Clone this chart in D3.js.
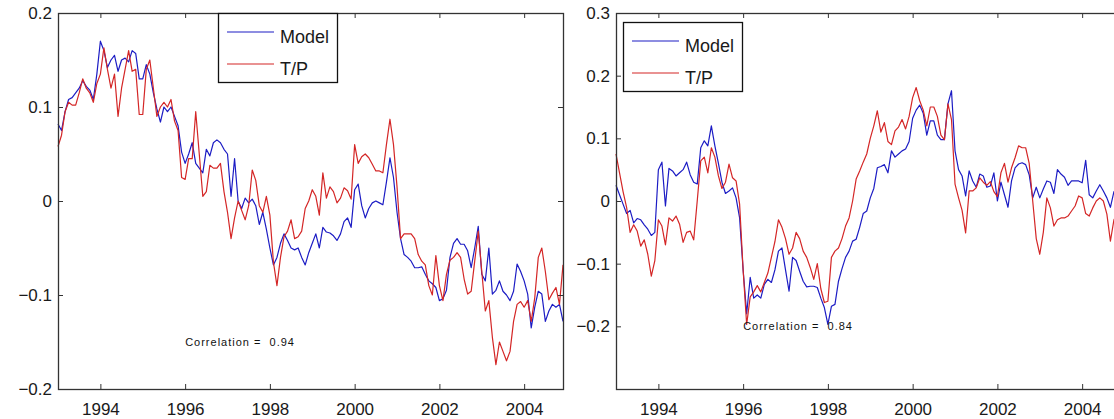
<!DOCTYPE html>
<html>
<head>
<meta charset="utf-8">
<script src="https://cdn.jsdelivr.net/npm/d3@7"></script>
<style>
  html, body { margin: 0; padding: 0; background: #fff; }
  svg { display: block; font-family: "Liberation Sans", Arial, sans-serif; }
</style>
</head>
<body>
<div id="chart"></div>
<script>
// Monthly series, Jan 1993 .. Dec 2004
const startYear = 1993;

const leftModel = [
  0.082, 0.075, 0.095, 0.108, 0.110, 0.115, 0.120, 0.128, 0.122, 0.118, 0.108, 0.135,
  0.170, 0.160, 0.142, 0.150, 0.155, 0.138, 0.150, 0.152, 0.148, 0.160, 0.157, 0.130,
  0.130, 0.145, 0.135, 0.115, 0.098, 0.084, 0.100, 0.095, 0.100, 0.090, 0.080, 0.052,
  0.040, 0.050, 0.062, 0.040, 0.035, 0.030, 0.055, 0.048, 0.062, 0.065, 0.062, 0.055,
  0.050, 0.005, 0.045, 0.000, -0.008, 0.003, -0.002, 0.002, -0.005, -0.025, -0.012, -0.030,
  -0.050, -0.068, -0.060, -0.045, -0.035, -0.042, -0.050, -0.052, -0.050, -0.060, -0.068, -0.055,
  -0.045, -0.035, -0.050, -0.028, -0.033, -0.034, -0.037, -0.042, -0.035, -0.022, -0.018, -0.028,
  0.012, 0.018, -0.005, -0.018, -0.008, -0.002, 0.000, -0.002, -0.004, 0.020, 0.046, 0.025,
  -0.012, -0.040, -0.057, -0.060, -0.064, -0.071, -0.071, -0.070, -0.078, -0.085, -0.088, -0.092,
  -0.106, -0.104, -0.095, -0.060, -0.045, -0.040, -0.046, -0.046, -0.053, -0.071, -0.050, -0.027,
  -0.078, -0.085, -0.050, -0.099, -0.095, -0.085, -0.096, -0.100, -0.106, -0.096, -0.067, -0.075,
  -0.085, -0.099, -0.135, -0.113, -0.096, -0.099, -0.128, -0.117, -0.110, -0.113, -0.110, -0.128
];

const leftTP = [
  0.058, 0.070, 0.095, 0.105, 0.102, 0.102, 0.115, 0.130, 0.120, 0.115, 0.105, 0.125,
  0.135, 0.163, 0.140, 0.120, 0.135, 0.090, 0.120, 0.140, 0.160, 0.138, 0.140, 0.092,
  0.092, 0.140, 0.150, 0.120, 0.090, 0.100, 0.105, 0.100, 0.108, 0.085, 0.075, 0.025,
  0.023, 0.045, 0.045, 0.095, 0.050, 0.005, 0.010, 0.038, 0.035, 0.035, 0.040, 0.010,
  -0.012, -0.040, -0.018, 0.000, -0.010, -0.020, -0.005, 0.033, 0.022, -0.005, -0.012, 0.005,
  -0.015, -0.065, -0.090, -0.060, -0.038, -0.032, -0.020, -0.040, -0.038, -0.032, -0.008, 0.000,
  0.012, 0.005, -0.015, 0.030, 0.003, 0.015, 0.010, -0.002, 0.003, 0.014, 0.011, 0.002,
  0.060, 0.040, 0.047, 0.050, 0.046, 0.039, 0.032, 0.032, 0.030, 0.060, 0.087, 0.060,
  0.015, -0.040, -0.035, -0.035, -0.035, -0.040, -0.057, -0.064, -0.068, -0.090, -0.100, -0.058,
  -0.090, -0.106, -0.078, -0.063, -0.060, -0.055, -0.060, -0.083, -0.099, -0.096, -0.064, -0.032,
  -0.075, -0.117, -0.106, -0.145, -0.174, -0.150, -0.160, -0.170, -0.160, -0.128, -0.110, -0.107,
  -0.113, -0.106, -0.128, -0.103, -0.060, -0.050, -0.075, -0.105, -0.098, -0.092, -0.110, -0.068
];

const rightModel = [
  0.025, 0.010, -0.005, -0.020, -0.015, -0.035, -0.028, -0.030, -0.038, -0.045, -0.055, -0.050,
  0.050, 0.062, -0.008, 0.052, 0.048, 0.040, 0.045, 0.050, 0.062, 0.042, 0.030, 0.027,
  0.085, 0.096, 0.088, 0.120, 0.088, 0.060, 0.030, 0.012, 0.016, 0.021, 0.005, -0.027,
  -0.110, -0.180, -0.122, -0.155, -0.150, -0.155, -0.133, -0.125, -0.130, -0.110, -0.080, -0.075,
  -0.110, -0.144, -0.090, -0.095, -0.112, -0.128, -0.137, -0.136, -0.136, -0.138, -0.155, -0.170,
  -0.197, -0.168, -0.165, -0.128, -0.108, -0.090, -0.080, -0.064, -0.061, -0.042, -0.020, -0.016,
  0.005, 0.020, 0.053, 0.055, 0.058, 0.045, 0.080, 0.070, 0.075, 0.080, 0.083, 0.095,
  0.132, 0.145, 0.153, 0.140, 0.105, 0.128, 0.128, 0.105, 0.098, 0.098, 0.155, 0.176,
  0.080, 0.050, 0.040, 0.008, 0.048, 0.032, 0.022, 0.043, 0.040, 0.022, 0.024, 0.045,
  0.000, 0.030, 0.010, -0.010, 0.032, 0.053, 0.059, 0.061, 0.058, 0.042, 0.005, 0.022,
  0.005, 0.019, 0.032, 0.030, 0.012, 0.050, 0.043, 0.038, 0.025, 0.032, 0.032, 0.032,
  0.029, 0.065, 0.010, 0.005, 0.016, 0.026, 0.016, 0.005, -0.010, 0.015, 0.010, 0.000
];

const rightTP = [
  0.075, 0.045, 0.015, -0.010, -0.050, -0.038, -0.048, -0.072, -0.062, -0.085, -0.120, -0.095,
  -0.030, -0.040, -0.070, -0.027, -0.032, -0.024, -0.037, -0.066, -0.050, -0.048, -0.062, 0.000,
  0.064, 0.070, 0.045, 0.085, 0.070, 0.040, 0.020, 0.030, 0.059, 0.037, 0.032, -0.005,
  -0.110, -0.197, -0.153, -0.145, -0.135, -0.145, -0.130, -0.115, -0.090, -0.065, -0.030, -0.042,
  -0.060, -0.085, -0.075, -0.050, -0.060, -0.080, -0.090, -0.106, -0.125, -0.100, -0.140, -0.162,
  -0.160, -0.090, -0.080, -0.075, -0.060, -0.040, -0.027, 0.000, 0.035, 0.048, 0.062, 0.075,
  0.100, 0.120, 0.144, 0.110, 0.125, 0.095, 0.090, 0.112, 0.118, 0.130, 0.115, 0.135,
  0.165, 0.181, 0.160, 0.145, 0.120, 0.150, 0.150, 0.135, 0.105, 0.098, 0.155, 0.130,
  0.027, 0.005, -0.015, -0.051, 0.016, 0.016, 0.021, 0.037, 0.030, 0.025, 0.031, 0.015,
  0.007, 0.045, 0.060, 0.030, 0.053, 0.069, 0.088, 0.085, 0.085, 0.060, 0.000, -0.060,
  -0.085, -0.050, 0.005, -0.011, -0.040, -0.030, -0.027, -0.027, -0.024, -0.016, -0.008, 0.008,
  0.005, -0.020, -0.024, -0.011, 0.000, 0.005, 0.000, -0.021, -0.064, -0.030, -0.020, -0.010
];

const xTicks = [1994, 1996, 1998, 2000, 2002, 2004];
const leftYTicks = [-0.2, -0.1, 0, 0.1, 0.2];
const rightYTicks = [-0.2, -0.1, 0, 0.1, 0.2, 0.3];
const seriesNames = ["Model", "T/P"];
const seriesColours = ["#1c1cc4", "#d42626"];
const leftCorrelation = "0.94";
const rightCorrelation = "0.84";

const width = 1114;
const height = 419;

const svg = d3.select("#chart").append("svg")
  .attr("width", width)
  .attr("height", height);

svg.append("rect").attr("width", width).attr("height", height).attr("fill", "#fff");

const fmtTick = (d) => (d === 0 ? "0" : d3.format(".1f")(d));

// Draw one axes panel
const drawPanel = (opts) => {
  const { left, right, top, bottom, yDomain, yTicks, model, tp, legend, corr } = opts;
  const n = model.length;

  const x = d3.scaleLinear()
    .domain([startYear, startYear + (n - 1) / 12])
    .range([left, right]);
  const y = d3.scaleLinear().domain(yDomain).range([bottom, top]);

  const g = svg.append("g");

  // Lines
  const line = d3.line()
    .x((d, i) => x(startYear + i / 12))
    .y((d) => y(d));

  [model, tp].forEach((series, k) => {
    g.append("path")
      .datum(series)
      .attr("fill", "none")
      .attr("stroke", seriesColours[k])
      .attr("stroke-width", 1.2)
      .attr("stroke-linejoin", "round")
      .attr("d", line);
  });

  // Axes - ticks inside, matlab style
  const axisColour = "#333";
  const styleAxis = (sel) => {
    sel.select(".domain").remove();
    sel.selectAll(".tick line").attr("stroke", axisColour);
    sel.selectAll(".tick text")
      .attr("fill", "#1a1a1a")
      .style("font-size", "17px")
      .style("font-family", "'Liberation Sans', Arial, sans-serif");
  };

  g.append("g")
    .attr("transform", `translate(0,${bottom})`)
    .call(d3.axisBottom(x).tickValues(xTicks).tickFormat(d3.format("d"))
      .tickSizeInner(-5).tickSizeOuter(0).tickPadding(14))
    .call(styleAxis);
  g.append("g")
    .attr("transform", `translate(0,${top})`)
    .call(d3.axisTop(x).tickValues(xTicks).tickFormat("")
      .tickSizeInner(-5).tickSizeOuter(0))
    .call(styleAxis);
  g.append("g")
    .attr("transform", `translate(${left},0)`)
    .call(d3.axisLeft(y).tickValues(yTicks).tickFormat(fmtTick)
      .tickSizeInner(-5).tickSizeOuter(0).tickPadding(6))
    .call(styleAxis);
  g.append("g")
    .attr("transform", `translate(${right},0)`)
    .call(d3.axisRight(y).tickValues(yTicks).tickFormat("")
      .tickSizeInner(-5).tickSizeOuter(0))
    .call(styleAxis);

  // Box
  g.append("rect")
    .attr("x", left + 0.5)
    .attr("y", top + 0.5)
    .attr("width", right - left)
    .attr("height", bottom - top)
    .attr("fill", "none")
    .attr("stroke", axisColour)
    .attr("stroke-width", 1.3);

  // Correlation label
  g.append("text")
    .attr("x", x(corr.year))
    .attr("y", y(corr.value))
    .attr("dy", "0.35em")
    .attr("fill", "#111")
    .style("font-size", "11px")
    .style("letter-spacing", "1px")
    .style("white-space", "pre")
    .text(`Correlation =  ${corr.text}`);

  // Legend
  const lg = g.append("g").attr("transform", `translate(${legend.x},${legend.y})`);
  lg.append("rect")
    .attr("x", 0.5).attr("y", 0.5)
    .attr("width", 119).attr("height", 69)
    .attr("fill", "#fff")
    .attr("stroke", "#111")
    .attr("stroke-width", 1.3);
  seriesNames.forEach((name, k) => {
    const ly = 19 + k * 32;
    lg.append("line")
      .attr("x1", 9).attr("x2", 56)
      .attr("y1", ly).attr("y2", ly)
      .attr("stroke", seriesColours[k])
      .attr("stroke-width", 1.2);
    lg.append("text")
      .attr("x", 62)
      .attr("y", ly + 11)
      .attr("fill", "#1a1a1a")
      .style("font-size", "18px")
      .text(name);
  });
};

drawPanel({
  left: 58, right: 563, top: 13, bottom: 389,
  yDomain: [-0.2, 0.2], yTicks: leftYTicks,
  model: leftModel, tp: leftTP,
  legend: { x: 218, y: 13 },
  corr: { year: 1996, value: -0.15, text: leftCorrelation }
});

drawPanel({
  left: 616, right: 1121, top: 13, bottom: 389,
  yDomain: [-0.3, 0.3], yTicks: rightYTicks,
  model: rightModel, tp: rightTP,
  legend: { x: 623, y: 22 },
  corr: { year: 1996, value: -0.2, text: rightCorrelation }
});
</script>
</body>
</html>
